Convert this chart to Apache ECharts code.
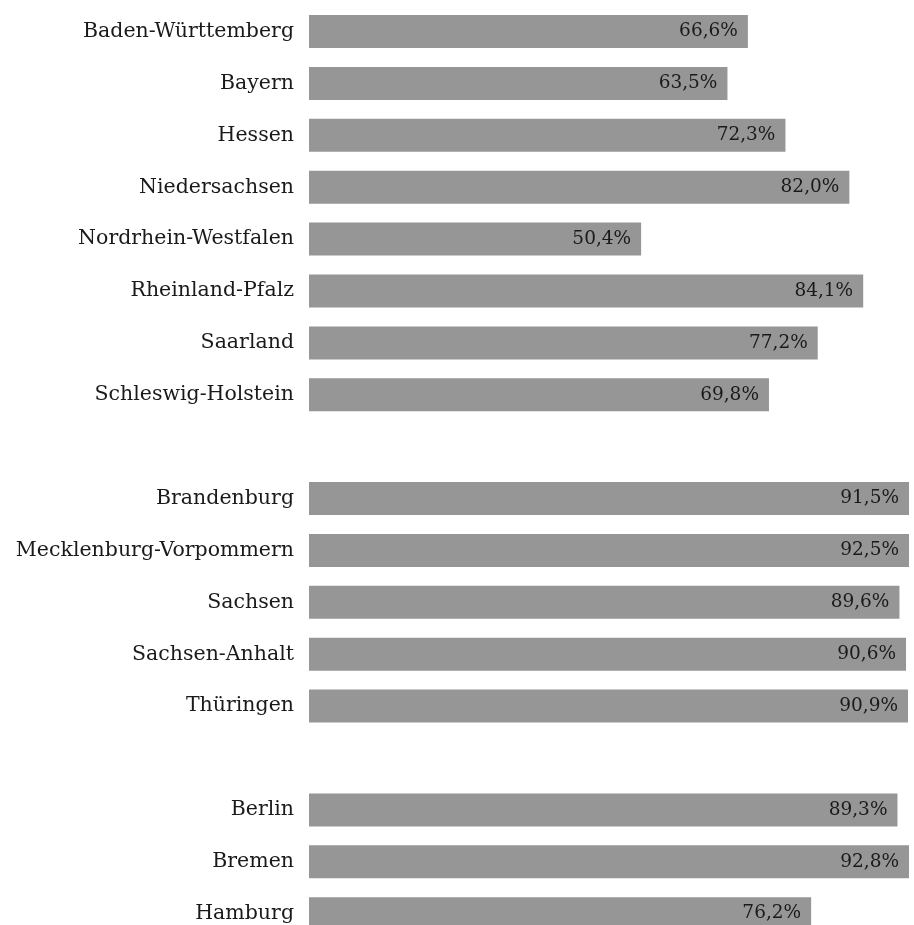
<!DOCTYPE html>
<html>
<head>
<meta charset="utf-8">
<script src="https://cdn.jsdelivr.net/npm/echarts@6/dist/echarts.min.js"></script>
<style>
    html, body { margin: 0; padding: 0; background: #ffffff; }
    #chart { width: 914px; height: 925px; }
</style>
</head>
<body>
<div id="chart"></div>
<script>
    // Länder, leere Einträge = Abstand zwischen den Gruppen
    var categories = [
        'Baden-Württemberg', 'Bayern', 'Hessen', 'Niedersachsen', 'Nordrhein-Westfalen',
        'Rheinland-Pfalz', 'Saarland', 'Schleswig-Holstein', '',
        'Brandenburg', 'Mecklenburg-Vorpommern', 'Sachsen', 'Sachsen-Anhalt', 'Thüringen', '',
        'Berlin', 'Bremen', 'Hamburg'
    ];
    var values = [
        66.6, 63.5, 72.3, 82.0, 50.4, 84.1, 77.2, 69.8, null,
        91.5, 92.5, 89.6, 90.6, 90.9, null,
        89.3, 92.8, 76.2
    ];

    var chart = echarts.init(document.getElementById('chart'));
    var option = {
        animation: false,
        grid: {
            left: 309,
            top: 5.6,
            width: 600,
            height: 934,
            outerBoundsMode: 'none'
        },
        xAxis: {
            type: 'value',
            min: 0,
            max: 91.05,
            show: false
        },
        yAxis: {
            type: 'category',
            inverse: true,
            data: categories,
            axisLine: { show: false },
            axisTick: { show: false },
            axisLabel: {
                margin: 15,
                fontFamily: 'DejaVu Serif',
                fontSize: 20.5,
                color: '#1a1a1a'
            }
        },
        series: [{
            type: 'bar',
            data: values,
            barWidth: 33,
            itemStyle: { color: '#969696' },
            label: {
                show: true,
                position: 'insideRight',
                distance: 10,
                fontFamily: 'DejaVu Serif',
                fontSize: 18.5,
                color: '#1a1a1a',
                formatter: function (p) {
                    return p.value.toFixed(1).replace('.', ',') + '%';
                }
            }
        }]
    };
    chart.setOption(option);
</script>
</body>
</html>
